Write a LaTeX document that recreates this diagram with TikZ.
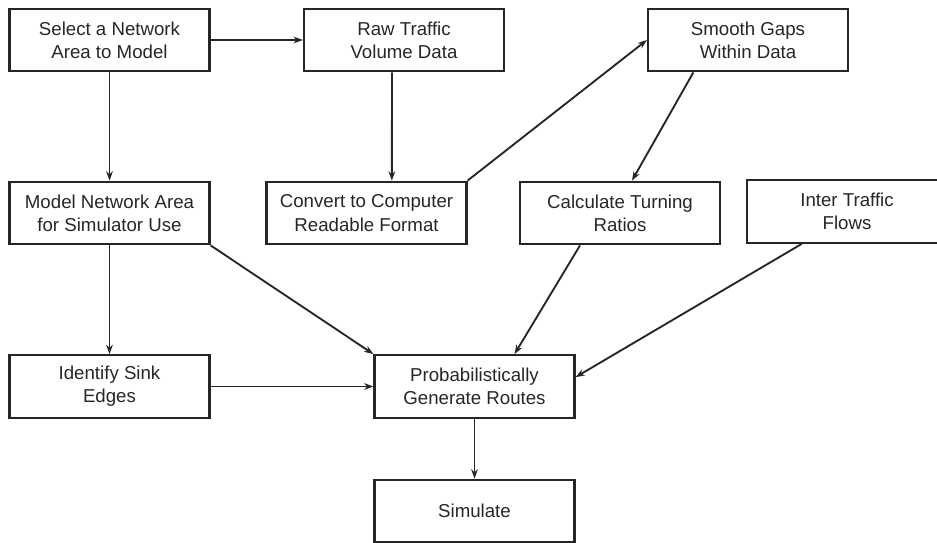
\documentclass[tikz,border=0pt]{standalone}
\usepackage{fontspec}
\setmainfont{Liberation Sans}
\usepackage{tikz}
\usetikzlibrary{arrows.meta, positioning}

\tikzset{
    stepbox/.style={draw=black!85, line width=1.6pt, rectangle, minimum width=150pt,
        minimum height=47pt, align=center, text=black!85, font=\fontsize{14}{17.5}\selectfont},
    flow/.style={draw=black!85, line width=1.4pt, -{Stealth[length=7pt,width=5pt]}}
}

\begin{document}
\begin{tikzpicture}[x=0.75pt, y=-0.75pt]
\useasboundingbox (0,0) rectangle (937,542);
% Top row
\node[stepbox] (select) at (109.5,40) {Select a Network\\Area to Model};
\node[stepbox] (raw) at (404,40) {Raw Traffic\\Volume Data};
\node[stepbox] (smooth) at (748,40) {Smooth Gaps\\Within Data};
% Middle row
\node[stepbox] (model) at (109.5,213) {Model Network Area\\for Simulator Use};
\node[stepbox] (convert) at (366.5,213) {Convert to Computer\\Readable Format};
\node[stepbox] (turning) at (620,213) {Calculate Turning\\Ratios};
\node[stepbox] (inter) at (847,211.5) {Inter Traffic\\Flows};
% Lower rows
\node[stepbox] (sink) at (109.5,386.5) {Identify Sink\\Edges};
\node[stepbox] (routes) at (474.5,386.5) {Probabilistically\\Generate Routes};
\node[stepbox] (simulate) at (474.5,511) {Simulate};

\draw[flow] (select.east) -- (raw.west);
\draw[flow] (select.south) -- (model.north);
\draw[flow] ([xshift=-9pt]raw.south) -- ([xshift=19pt]convert.north);
\draw[flow] (convert.north east) -- (smooth.west);
\draw[flow] ([xshift=-41pt]smooth.south) -- ([xshift=9pt]turning.north);
\draw[flow] (model.south) -- (sink.north);
\draw[flow] (model.south east) -- (routes.north west);
\draw[flow] (sink.east) -- (routes.west);
\draw[flow] ([xshift=-30pt]turning.south) -- ([xshift=30pt]routes.north);
\draw[flow] ([xshift=-34pt]inter.south) -- ([yshift=7pt]routes.east);
\draw[flow] (routes.south) -- (simulate.north);
\end{tikzpicture}
\end{document}
